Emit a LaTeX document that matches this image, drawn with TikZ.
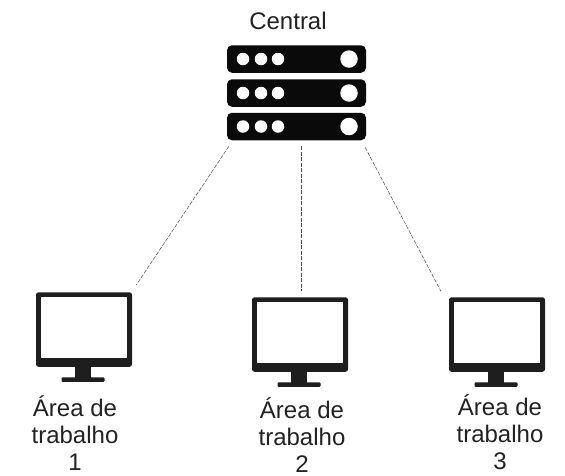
\documentclass[tikz,border=0pt]{standalone}
\usepackage{fontspec}
\setmainfont{Liberation Sans}
\usetikzlibrary{calc}
\definecolor{ink}{HTML}{0A0A0A}
\definecolor{mon}{HTML}{1E1E1E}
\definecolor{txt}{HTML}{222222}
\tikzset{
  rack/.style={fill=ink,rounded corners=5pt,minimum width=139pt,minimum height=27.5pt,inner sep=0pt},
  led/.style={circle,fill=white,minimum size=12.5pt,inner sep=0pt},
  bigled/.style={circle,fill=white,minimum size=17.5pt,inner sep=0pt},
  link/.style={draw=black!70,line width=0.5pt,dash pattern=on 4pt off 1.5pt},
  label/.style={text=txt,font=\fontsize{24}{27}\selectfont,align=center,inner sep=0pt},
  monitor/.pic={
    \node[fill=mon,rounded corners=2.5pt,minimum width=96pt,minimum height=74.5pt,inner sep=0pt] (-frame) at (0,0) {};
    \node[fill=white,minimum width=86pt,minimum height=61pt,inner sep=0pt] (-screen) at (0,-2) {};
    \node[fill=mon,minimum width=16pt,minimum height=12pt,inner sep=0pt] (-neck) at (-1,43.5) {};
    \node[fill=mon,rounded corners=1pt,minimum width=43pt,minimum height=4.5pt,inner sep=0pt] (-base) at (-1,50) {};
  }
}
\begin{document}
\begin{tikzpicture}[x=1pt,y=-1pt]
\useasboundingbox (0,0) rectangle (565,475);
\node[label] (central) at (288,20.5) {Central};
% server
\node[rack] (r1) at (296.5,59) {};
\node[rack] (r2) at (296.5,93) {};
\node[rack] (r3) at (296.5,126.5) {};
\foreach \r/\y in {1/59,2/93,3/126.5}{
  \node[led] (a\r) at (243,\y) {};
  \node[led] (b\r) at (261,\y) {};
  \node[led] (c\r) at (278,\y) {};
  \node[bigled] (d\r) at (349,\y) {};
}
% monitors
\pic (m1) at (84,329.5) {monitor};
\pic (m2) at (300,334.5) {monitor};
\pic (m3) at (497,334.5) {monitor};
% labels
\node[label] (t1) at (75,433.5) {Área de\\trabalho\\1};
\node[label] (t2) at (302,435.5) {Área de\\trabalho\\2};
\node[label] (t3) at (500,432.5) {Área de\\trabalho\\3};
% connectors
\coordinate (s1) at ($(r3.south west)+(2,6)$);
\coordinate (s2) at ($(r3.south)+(4.5,6)$);
\coordinate (s3) at ($(r3.south east)+(-1,7)$);
\coordinate (e1) at ($(m1-frame.north east)+(4,-7)$);
\coordinate (e2) at ($(m2-frame.north)+(1,-6)$);
\coordinate (e3) at ($(m3-frame.north west)+(-8,-6)$);
\draw[link] (s1) -- (e1);
\draw[link] (s2) -- (e2);
\draw[link] (s3) -- (e3);
\end{tikzpicture}
\end{document}
